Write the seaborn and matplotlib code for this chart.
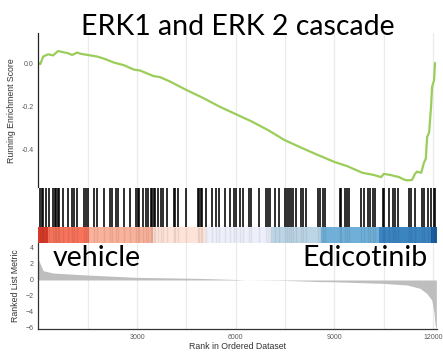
import numpy as np
import pandas as pd
import matplotlib
matplotlib.use("Agg")
import matplotlib.pyplot as plt
import seaborn as sns

# --- data (GSEA plot) ---
n_genes = 12120

es_rank = [0, 60, 150, 300, 450, 600, 750, 900, 1030, 1180, 1300, 1500, 1780, 2000,
           2300, 2600, 2900, 3100, 3500, 3700, 4000, 4500, 5000, 5500, 6000, 6500,
           7000, 7480, 8000, 8450, 9000, 9400, 9850, 10200, 10420, 10500, 10700,
           10970, 11100, 11210, 11360, 11450, 11510, 11640, 11720, 11780, 11820,
           11880, 11940, 11970, 12030, 12060]
es_score = [0.0, -0.005, 0.03, 0.04, 0.035, 0.055, 0.05, 0.045, 0.037, 0.048, 0.042,
            0.037, 0.03, 0.02, 0.002, -0.01, -0.03, -0.035, -0.06, -0.065, -0.085,
            -0.124, -0.16, -0.2, -0.235, -0.27, -0.31, -0.354, -0.39, -0.42, -0.455,
            -0.475, -0.505, -0.515, -0.525, -0.51, -0.515, -0.525, -0.535, -0.54,
            -0.538, -0.51, -0.5, -0.505, -0.46, -0.44, -0.34, -0.32, -0.2, -0.11,
            -0.08, 0.0]

hit_rank = [52, 103, 152, 234, 316, 456, 499, 538, 590, 620, 742, 912, 1025, 1076,
            1168, 1399, 1450, 1520, 1703, 1785, 2007, 2180, 2241, 2363, 2414, 2606,
            2788, 2971, 3022, 3071, 3174, 3275, 3326, 3427, 3466, 3509, 3548, 3630,
            3730, 3782, 3913, 4117, 4165, 4238, 4491, 4846, 4886, 4938, 4977, 5099,
            5281, 5403, 5485, 5686, 5838, 5959, 6011, 6133, 6215, 6397, 6467, 6701,
            6923, 6993, 7054, 7206, 7327, 7501, 7552, 7613, 7683, 7753, 7835, 7987,
            8039, 8139, 8495, 8565, 8665, 8726, 9173, 9204, 9334, 9386, 9456, 9812,
            9894, 10033, 10094, 10167, 10246, 10471, 10520, 10672, 10775, 10854,
            10927, 11262, 11332, 11454, 11666, 11736, 11840, 11940, 12022, 12061]

metric_rank = [0, 30, 150, 450, 1500, 3000, 4900, 5900, 6300, 7500, 8566, 9000,
               10480, 11201, 11602, 11805, 11961, 12031, 12061, 12100]
metric_value = [2.6, 2.3, 1.16, 0.87, 0.62, 0.33, 0.2, 0.08, 0.0, -0.05, -0.2, -0.22,
                -0.42, -0.62, -1.04, -1.67, -2.5, -4.1, -5.6, -6.1]

band_edges = [0, 285, 1550, 3478, 5100, 7076, 8596, 10370, 11940, 12120]
band_colors = ['#D93A2B', '#F7735A', '#F9B29C', '#FDE3D8', '#EDF0FA',
               '#BCD5E6', '#6FAFD8', '#3A84C0', '#1D5FA1']

title = 'ERK1 and ERK 2 cascade'
left_label = 'vehicle'
right_label = 'Edicotinib'

sns.set_style("white")
plt.rcParams['font.family'] = ['Liberation Sans', 'DejaVu Sans']

W, H = 443, 352
fig = plt.figure(figsize=(W / 100, H / 100), dpi=100)

def axes_px(x0, y0, x1, y1):
    return fig.add_axes([x0 / W, 1 - y1 / H, (x1 - x0) / W, (y1 - y0) / H])

x_left, x_right = 38.3, 437
ax1 = axes_px(x_left, 33, x_right, 188)
ax2 = axes_px(x_left, 188, x_right, 243)
ax3 = axes_px(x_left, 243, x_right, 329)

grid_color = '#EBEBEB'
tick_color = '#595959'
for ax in (ax1, ax2, ax3):
    ax.set_xlim(0, n_genes)
    ax.set_xticks(np.arange(3000, 12001, 3000))
    ax.set_xticks(np.arange(1500, 12001, 3000), minor=True)
    ax.grid(True, axis='x', which='both', color=grid_color, lw=0.9)
    ax.set_axisbelow(True)
    for s in ax.spines.values():
        s.set_visible(False)

# running enrichment score
es_df = pd.DataFrame({'rank': es_rank, 'es': es_score})
sns.lineplot(data=es_df, x='rank', y='es', ax=ax1, color='#9ACD5A', lw=1.6,
             estimator=None, sort=False)
ax1.set_ylim(-0.575, 0.138)
ax1.set_yticks([0.0, -0.2, -0.4])
ax1.set_yticklabels(['0.0', '-0.2', '-0.4'])
ax1.spines['left'].set_visible(True)
ax1.spines['left'].set_color('#222222')
ax1.spines['left'].set_linewidth(0.9)
ax1.tick_params(axis='x', which='both', length=0, labelbottom=False)
ax1.tick_params(axis='y', length=2, width=0.6, color=tick_color, labelsize=5,
                labelcolor=tick_color, pad=1.5)
ax1.set_xlabel('')
ax1.set_ylabel('Running Enrichment Score', fontsize=6.3, color='#333333', labelpad=4)

# gene hits + colour band
band_top = 16 / 55
ax2.set_ylim(0, 1)
for lo, hi, c in zip(band_edges[:-1], band_edges[1:], band_colors):
    ax2.axvspan(lo, hi, ymin=0, ymax=band_top, color=c, lw=0, zorder=2)
ax2.vlines(hit_rank, band_top, 1, color='black', lw=1.15, zorder=3)
ax2.vlines(hit_rank, 0, band_top, color='black', lw=1.0, alpha=0.07, zorder=3)
ax2.set_yticks([])
ax2.tick_params(axis='x', which='both', length=0, labelbottom=False)

# ranked list metric
ax3.fill_between(metric_rank, metric_value, 0, color='#BEBEBE', lw=0)
ax3.set_ylim(-6.125, 4.625)
ax3.set_yticks([-6, -4, -2, 0, 2, 4])
for side in ('left', 'bottom'):
    ax3.spines[side].set_visible(True)
    ax3.spines[side].set_color('#333333')
    ax3.spines[side].set_linewidth(0.9)
ax3.tick_params(axis='both', which='major', length=2, width=0.6, color=tick_color,
                labelsize=5, labelcolor=tick_color, pad=1.5)
ax3.tick_params(axis='x', which='minor', length=0)
ax3.set_xticklabels(['3000', '6000', '9000', '12000'])
ax3.set_xlabel('Rank in Ordered Dataset', fontsize=6.3, color='#333333', labelpad=1)
ax3.set_ylabel('Ranked List Metric', fontsize=6.3, color='#333333', labelpad=4)

# big overlay texts
big = dict(family=['Lato', 'DejaVu Sans'], fontsize=20.5, color='black', va='baseline')
fig.text(238 / W, 1 - 35 / H, title, ha='center', **big)
fig.text(53 / W, 1 - 266 / H, left_label, ha='left', **big)
fig.text(428 / W, 1 - 266 / H, right_label, ha='right', **big)

fig.savefig('out.png', dpi=100)
